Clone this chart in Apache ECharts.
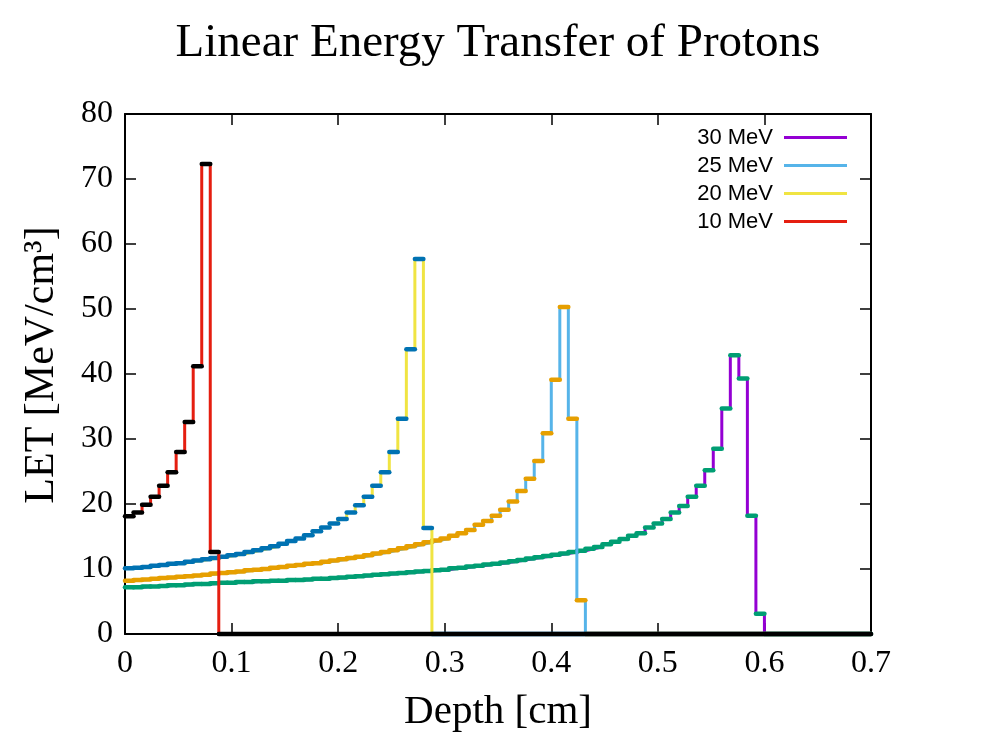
<!DOCTYPE html>
<html>
<head>
<meta charset="utf-8">
<title>Linear Energy Transfer of Protons</title>
<script src="https://cdn.jsdelivr.net/npm/echarts@6/dist/echarts.min.js"></script>
<style>
html, body { margin: 0; padding: 0; background: #fff; }
#container { width: 996px; height: 747px; }
</style>
</head>
<body>
<div id="container"></div>
<script>
// histogram bins of the depth axis (cm)
const binWidth = 0.008
const depthMax = 0.7

const seriesNames = ['30 MeV', '25 MeV', '20 MeV', '10 MeV']

// LET per bin (MeV/cm3)
const let30 = [
    7.2, 7.2, 7.3, 7.3, 7.4, 7.5, 7.5, 7.6, 7.7, 7.7,
    7.8, 7.9, 7.9, 8.0, 8.0, 8.1, 8.1, 8.2, 8.2, 8.3,
    8.3, 8.4, 8.5, 8.5, 8.6, 8.7, 8.8, 8.9, 9.0, 9.1,
    9.2, 9.3, 9.4, 9.5, 9.6, 9.7, 9.8, 9.9, 10.1, 10.2,
    10.4, 10.5, 10.7, 10.8, 11.0, 11.2, 11.4, 11.6, 11.8, 12.0,
    12.2, 12.4, 12.6, 12.8, 13.1, 13.4, 13.8, 14.2, 14.6, 15.1,
    15.5, 16.4, 17.0, 17.7, 18.7, 19.7, 21.1, 22.8, 25.2, 28.5,
    34.7, 42.9, 39.3, 18.2, 3.1
]
const let25 = [
    8.2, 8.3, 8.4, 8.5, 8.6, 8.7, 8.8, 8.9, 9.0, 9.1,
    9.3, 9.4, 9.5, 9.6, 9.8, 9.9, 10.0, 10.2, 10.3, 10.5,
    10.6, 10.8, 10.9, 11.1, 11.3, 11.5, 11.7, 11.9, 12.1, 12.4,
    12.6, 12.9, 13.2, 13.5, 13.8, 14.1, 14.4, 14.7, 15.1, 15.5,
    16.0, 16.8, 17.4, 18.2, 19.1, 20.4, 22.0, 23.9, 26.6, 30.9,
    39.1, 50.3, 33.1, 5.2
]
const let20 = [
    10.1, 10.2, 10.3, 10.5, 10.6, 10.8, 10.9, 11.1, 11.3, 11.5,
    11.7, 11.9, 12.1, 12.3, 12.6, 12.9, 13.2, 13.5, 13.9, 14.3,
    14.7, 15.2, 15.8, 16.4, 17.0, 17.7, 18.7, 19.8, 21.1, 22.8,
    24.9, 28.0, 33.1, 43.8, 57.7, 16.3
]
const let10 = [18.1, 18.7, 19.9, 21.1, 22.8, 24.9, 28.0, 32.6, 41.2, 72.3, 12.6]

const stepColors = ['#9400d3', '#56b4e9', '#f0e442', '#e51e10']
const dashColors = ['#009e73', '#e69f00', '#0072b2', '#000000']

const serif = 'Liberation Serif'
const sans = 'Liberation Sans'

// outline points of a histogram, then flat at zero to the end of the axis
function stepPoints(values) {
    let pts = values.map((v, i) => [i * binWidth, v])
    pts.push([values.length * binWidth, 0])
    pts.push([depthMax, 0])
    return pts
}

// one [from, to, value] item per bin for the flat tops
function dashItems(values) {
    let items = values.map((v, i) => [i * binWidth, (i + 1) * binWidth, v])
    items.push([values.length * binWidth, depthMax, 0])
    return items
}

let allValues = [let30, let25, let20, let10]
let series = []
allValues.forEach((values, k) => {
    series.push({
        name: seriesNames[k],
        type: 'line',
        step: 'end',
        symbol: 'none',
        showSymbol: false,
        z: 2 + 2 * k,
        data: stepPoints(values),
        itemStyle: { color: stepColors[k] },
        lineStyle: { color: stepColors[k], width: 3 }
    })
    series.push({
        name: seriesNames[k] + ' bins',
        type: 'custom',
        z: 3 + 2 * k,
        encode: { x: [0, 1], y: 2 },
        data: dashItems(values),
        renderItem: (params, api) => {
            let a = api.coord([api.value(0), api.value(2)])
            let b = api.coord([api.value(1), api.value(2)])
            return {
                type: 'line',
                shape: { x1: a[0], y1: a[1], x2: b[0], y2: b[1] },
                style: { stroke: dashColors[k], lineWidth: 4.5, lineCap: 'round' }
            }
        }
    })
})

const axisLine = { show: true, onZero: false, lineStyle: { color: '#000', width: 2 } }
const axisTick = { show: true, inside: true, length: 11, lineStyle: { color: '#000', width: 1.5 } }
const tickFont = { fontFamily: serif, fontSize: 32, color: '#000' }

let options = {
    animation: false,
    backgroundColor: '#fff',
    title: {
        text: 'Linear Energy Transfer of Protons',
        left: 'center',
        top: 15,
        textStyle: { fontFamily: serif, fontSize: 47, fontWeight: 'normal', color: '#000' }
    },
    legend: {
        data: seriesNames,
        orient: 'vertical',
        right: 149,
        top: 126,
        padding: 0,
        align: 'right',
        icon: 'rect',
        itemWidth: 63,
        itemHeight: 3,
        itemGap: 5,
        selectedMode: false,
        textStyle: { fontFamily: sans, fontSize: 22, lineHeight: 23, color: '#000', padding: [0, 6, 0, 0] }
    },
    grid: { left: 125, right: 125, top: 114, bottom: 113, containLabel: false, outerBoundsMode: 'none' },
    xAxis: [
        {
            type: 'value',
            position: 'bottom',
            min: 0,
            max: depthMax,
            interval: 0.1,
            name: 'Depth [cm]',
            nameLocation: 'middle',
            nameGap: 58,
            nameTextStyle: { fontFamily: serif, fontSize: 41, color: '#000' },
            axisLine: axisLine,
            axisTick: axisTick,
            axisLabel: Object.assign({ margin: 14, showMinLabel: true, showMaxLabel: true }, tickFont),
            splitLine: { show: false }
        },
        {
            type: 'value',
            position: 'top',
            min: 0,
            max: depthMax,
            interval: 0.1,
            axisLine: axisLine,
            axisTick: axisTick,
            axisLabel: { show: false },
            splitLine: { show: false }
        }
    ],
    yAxis: [
        {
            type: 'value',
            position: 'left',
            min: 0,
            max: 80,
            interval: 10,
            name: 'LET [MeV/cm³]',
            nameLocation: 'middle',
            nameGap: 62,
            nameTextStyle: { fontFamily: serif, fontSize: 42, color: '#000', padding: [0, 0, 0, 18] },
            axisLine: axisLine,
            axisTick: axisTick,
            axisLabel: Object.assign({ margin: 12, showMinLabel: true, showMaxLabel: true }, tickFont),
            splitLine: { show: false }
        },
        {
            type: 'value',
            position: 'right',
            min: 0,
            max: 80,
            interval: 10,
            axisLine: axisLine,
            axisTick: axisTick,
            axisLabel: { show: false },
            splitLine: { show: false }
        }
    ],
    series: series
}

let mychart = echarts.init(document.getElementById('container'))
mychart.setOption(options)
window.addEventListener('resize', () => { mychart.resize() })
</script>
</body>
</html>
